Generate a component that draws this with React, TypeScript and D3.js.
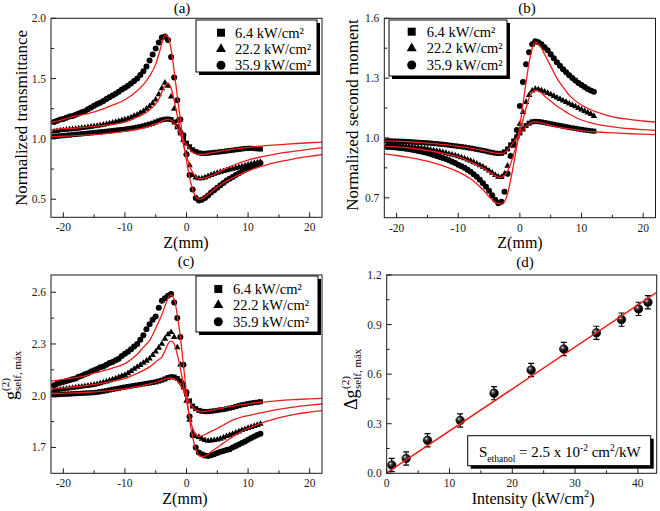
import React from 'react';
import * as d3 from 'd3';

// ---------- shared z positions ----------
const zData = [
  -21.5, -21, -20.5, -20, -19.5, -19, -18.5, -18, -17.5, -17,
  -16.5, -16, -15.5, -15, -14.5, -14, -13.5, -13, -12.5, -12,
  -11.5, -11, -10.5, -10, -9.5, -9, -8.5, -8, -7.5, -7,
  -6.5, -6, -5.5, -5, -4.5, -4, -3.5, -3, -2.5, -2,
  -1.5, -1, -0.5, 0, 0.5, 1, 1.5, 2, 2.5, 3,
  3.5, 4, 4.5, 5, 5.5, 6, 6.5, 7, 7.5, 8,
  8.5, 9, 9.5, 10, 10.5, 11, 11.5, 12,
];
const zFit = [
  -22, -20, -18, -16, -14, -12, -10, -8, -7, -6,
  -5, -4.5, -4, -3.5, -3, -2.5, -2, -1.5, -1, -0.5,
  0, 0.5, 1, 1.5, 2, 2.5, 3, 3.5, 4, 5,
  6, 7, 8, 10, 12, 14, 16, 18, 20, 22,
];
const legendLabels = ['6.4 kW/cm²', '22.2 kW/cm²', '35.9 kW/cm²'];

// ---------- (a) normalized transmittance ----------
const aSq = [
  1.02, 1.022, 1.025, 1.027, 1.03, 1.032, 1.035, 1.037, 1.04, 1.042,
  1.045, 1.047, 1.05, 1.052, 1.055, 1.058, 1.06, 1.063, 1.066, 1.069,
  1.072, 1.075, 1.078, 1.08, 1.084, 1.088, 1.092, 1.097, 1.102, 1.108,
  1.115, 1.122, 1.13, 1.14, 1.15, 1.158, 1.163, 1.165, 1.16, 1.14,
  1.10, 1.05, 1.0, 0.965, 0.935, 0.91, 0.895, 0.885, 0.88, 0.88,
  0.882, 0.885, 0.888, 0.89, 0.893, 0.896, 0.9, 0.903, 0.906, 0.91,
  0.913, 0.917, 0.92, 0.922, 0.922, 0.92, 0.918, 0.916,
];
const aTri = [
  1.06, 1.065, 1.07, 1.072, 1.075, 1.078, 1.08, 1.083, 1.086, 1.09,
  1.093, 1.096, 1.10, 1.104, 1.108, 1.112, 1.117, 1.122, 1.128, 1.134,
  1.14, 1.147, 1.154, 1.16, 1.168, 1.178, 1.19, 1.20, 1.215, 1.23,
  1.25, 1.27, 1.295, 1.325, 1.37, 1.42, 1.465, 1.44, 1.35, 1.25,
  1.15, 1.07, 0.99, 0.88, 0.78, 0.70, 0.68, 0.672, 0.672, 0.68,
  0.69, 0.70, 0.71, 0.718, 0.725, 0.732, 0.74, 0.746, 0.752, 0.758,
  0.765, 0.772, 0.778, 0.785, 0.792, 0.798, 0.803, 0.808,
];
const aCir = [
  1.14, 1.15, 1.16, 1.165, 1.175, 1.185, 1.19, 1.20, 1.21, 1.22,
  1.23, 1.245, 1.26, 1.275, 1.29, 1.30, 1.315, 1.33, 1.345, 1.36,
  1.375, 1.39, 1.41, 1.425, 1.44, 1.46, 1.48, 1.50, 1.53, 1.56,
  1.60, 1.65, 1.70, 1.75, 1.80, 1.84, 1.85, 1.82, 1.68, 1.51,
  1.32, 1.16, 1.03, 0.87, 0.70, 0.58, 0.51, 0.49, 0.495, 0.51,
  0.53, 0.555, 0.575, 0.595, 0.615, 0.635, 0.655, 0.67, 0.685, 0.70,
  0.715, 0.73, 0.745, 0.755, 0.77, 0.78, 0.79, 0.80,
];
const aFitSq = [
  1.018, 1.022, 1.028, 1.034, 1.04, 1.05, 1.062, 1.08, 1.092, 1.106,
  1.124, 1.135, 1.147, 1.157, 1.162, 1.155, 1.13, 1.09, 1.04, 0.99,
  0.95, 0.915, 0.89, 0.877, 0.872, 0.872, 0.875, 0.879, 0.884, 0.893,
  0.902, 0.91, 0.918, 0.93, 0.94, 0.948, 0.955, 0.962, 0.968, 0.973,
];
const aFitTri = [
  1.075, 1.085, 1.09, 1.10, 1.11, 1.12, 1.14, 1.18, 1.205, 1.24,
  1.29, 1.33, 1.39, 1.44, 1.46, 1.42, 1.32, 1.19, 1.06, 0.95,
  0.86, 0.78, 0.72, 0.685, 0.67, 0.67, 0.675, 0.685, 0.695, 0.72,
  0.745, 0.768, 0.79, 0.825, 0.85, 0.87, 0.888, 0.90, 0.915, 0.925,
];
const aFitCir = [
  1.135, 1.16, 1.19, 1.21, 1.24, 1.28, 1.325, 1.40, 1.45, 1.52,
  1.62, 1.70, 1.79, 1.86, 1.85, 1.74, 1.56, 1.36, 1.16, 0.97,
  0.82, 0.68, 0.58, 0.52, 0.50, 0.505, 0.52, 0.54, 0.56, 0.60,
  0.635, 0.665, 0.69, 0.735, 0.77, 0.80, 0.82, 0.84, 0.855, 0.87,
];
const aYTicks = [0.5, 1.0, 1.5, 2.0];
const aYMinor = [0.75, 1.25, 1.75];

// ---------- (b) normalized second moment ----------
const bSq = [
  0.985, 0.985, 0.984, 0.984, 0.983, 0.983, 0.982, 0.981, 0.98, 0.979,
  0.978, 0.977, 0.976, 0.975, 0.974, 0.972, 0.971, 0.969, 0.968, 0.966,
  0.964, 0.962, 0.96, 0.958, 0.956, 0.954, 0.951, 0.949, 0.946, 0.943,
  0.94, 0.937, 0.934, 0.93, 0.927, 0.924, 0.922, 0.923, 0.93, 0.945,
  0.965, 0.985, 1.005, 1.025, 1.045, 1.062, 1.074, 1.081, 1.083, 1.082,
  1.08, 1.077, 1.074, 1.071, 1.068, 1.065, 1.062, 1.059, 1.056, 1.053,
  1.05, 1.048, 1.045, 1.043, 1.04, 1.038, 1.036, 1.034,
];
const bTri = [
  0.965, 0.964, 0.963, 0.962, 0.961, 0.96, 0.958, 0.957, 0.955, 0.953,
  0.951, 0.949, 0.947, 0.944, 0.941, 0.938, 0.935, 0.932, 0.928, 0.924,
  0.92, 0.916, 0.912, 0.907, 0.902, 0.897, 0.891, 0.885, 0.878, 0.871,
  0.863, 0.855, 0.846, 0.836, 0.825, 0.814, 0.805, 0.803, 0.82, 0.86,
  0.91, 0.96, 1.01, 1.07, 1.13, 1.18, 1.215, 1.237, 1.245, 1.243,
  1.238, 1.232, 1.225, 1.218, 1.21, 1.202, 1.195, 1.187, 1.18, 1.172,
  1.165, 1.158, 1.15, 1.142, 1.135, 1.127, 1.12, 1.11,
];
const bCir = [
  0.955, 0.954, 0.953, 0.952, 0.95, 0.948, 0.946, 0.944, 0.941, 0.938,
  0.935, 0.932, 0.928, 0.924, 0.92, 0.915, 0.91, 0.905, 0.90, 0.894,
  0.888, 0.881, 0.874, 0.866, 0.858, 0.85, 0.84, 0.83, 0.818, 0.805,
  0.79, 0.773, 0.755, 0.735, 0.712, 0.69, 0.672, 0.68, 0.73, 0.82,
  0.91, 0.97, 1.04, 1.16, 1.28, 1.37, 1.43, 1.47, 1.485, 1.48,
  1.47, 1.455, 1.44, 1.42, 1.40, 1.38, 1.362, 1.345, 1.33, 1.315,
  1.30, 1.288, 1.276, 1.265, 1.255, 1.246, 1.238, 1.232,
];
const bFitSq = [
  0.985, 0.984, 0.981, 0.977, 0.972, 0.966, 0.958, 0.949, 0.943, 0.937,
  0.93, 0.927, 0.924, 0.922, 0.922, 0.927, 0.94, 0.96, 0.98, 1.0,
  1.02, 1.04, 1.058, 1.07, 1.078, 1.08, 1.079, 1.076, 1.072, 1.064,
  1.056, 1.05, 1.045, 1.037, 1.031, 1.027, 1.024, 1.021, 1.019, 1.017,
];
const bFitTri = [
  0.958, 0.955, 0.95, 0.942, 0.932, 0.92, 0.905, 0.88, 0.865, 0.85,
  0.83, 0.82, 0.81, 0.803, 0.802, 0.81, 0.835, 0.87, 0.92, 0.97,
  1.03, 1.09, 1.15, 1.20, 1.23, 1.24, 1.235, 1.225, 1.21, 1.185,
  1.16, 1.14, 1.12, 1.09, 1.072, 1.06, 1.052, 1.046, 1.042, 1.038,
];
const bFitCir = [
  0.92, 0.912, 0.902, 0.89, 0.875, 0.855, 0.83, 0.795, 0.77, 0.74,
  0.705, 0.69, 0.678, 0.67, 0.668, 0.68, 0.72, 0.79, 0.87, 0.96,
  1.06, 1.17, 1.28, 1.38, 1.45, 1.48, 1.47, 1.45, 1.42, 1.36,
  1.30, 1.255, 1.215, 1.165, 1.135, 1.115, 1.10, 1.092, 1.085, 1.08,
];
const bYTicks = [0.7, 1.0, 1.3, 1.6];
const bYMinor = [0.85, 1.15, 1.45];

// ---------- (c) g2 self max ----------
const cSq = [
  2.005, 2.006, 2.007, 2.008, 2.009, 2.01, 2.011, 2.012, 2.013, 2.014,
  2.015, 2.016, 2.017, 2.018, 2.02, 2.023, 2.026, 2.029, 2.033, 2.037,
  2.04, 2.043, 2.047, 2.05, 2.053, 2.056, 2.059, 2.062, 2.065, 2.068,
  2.071, 2.074, 2.077, 2.08, 2.085, 2.09, 2.097, 2.105, 2.11, 2.108,
  2.10, 2.085, 2.05, 2.01, 1.97, 1.94, 1.925, 1.915, 1.91, 1.908,
  1.908, 1.91, 1.912, 1.915, 1.918, 1.92, 1.924, 1.928, 1.932, 1.937,
  1.942, 1.947, 1.95, 1.954, 1.957, 1.96, 1.962, 1.965,
];
const cTri = [
  2.03, 2.032, 2.035, 2.037, 2.04, 2.042, 2.045, 2.047, 2.05, 2.052,
  2.055, 2.057, 2.06, 2.063, 2.067, 2.072, 2.077, 2.082, 2.088, 2.094,
  2.10, 2.107, 2.114, 2.12, 2.13, 2.142, 2.155, 2.167, 2.178, 2.19,
  2.202, 2.215, 2.235, 2.255, 2.278, 2.30, 2.33, 2.355, 2.368, 2.34,
  2.28, 2.18, 2.07, 1.97, 1.86, 1.79, 1.765, 1.76, 1.75, 1.742,
  1.738, 1.74, 1.742, 1.745, 1.75, 1.757, 1.765, 1.772, 1.778, 1.785,
  1.792, 1.80, 1.806, 1.812, 1.818, 1.824, 1.83, 1.836,
];
const cCir = [
  2.06, 2.07, 2.075, 2.08, 2.085, 2.09, 2.095, 2.10, 2.11, 2.115,
  2.125, 2.13, 2.14, 2.148, 2.155, 2.165, 2.17, 2.18, 2.19, 2.195,
  2.205, 2.215, 2.23, 2.244, 2.255, 2.27, 2.285, 2.30, 2.325, 2.35,
  2.385, 2.415, 2.44, 2.46, 2.51, 2.55, 2.565, 2.58, 2.59, 2.54,
  2.45, 2.34, 2.18, 2.02, 1.88, 1.77, 1.70, 1.67, 1.66, 1.653,
  1.65, 1.655, 1.66, 1.668, 1.675, 1.68, 1.685, 1.69, 1.70, 1.708,
  1.717, 1.726, 1.735, 1.745, 1.755, 1.764, 1.772, 1.78,
];
const cFitSq = [
  2.012, 2.014, 2.016, 2.02, 2.025, 2.032, 2.04, 2.052, 2.06, 2.068,
  2.078, 2.084, 2.09, 2.096, 2.10, 2.102, 2.098, 2.085, 2.06, 2.03,
  1.995, 1.96, 1.935, 1.918, 1.91, 1.908, 1.909, 1.912, 1.915, 1.922,
  1.93, 1.937, 1.943, 1.953, 1.962, 1.968, 1.974, 1.978, 1.982, 1.985,
];
const cFitTri = [
  2.04, 2.045, 2.052, 2.06, 2.07, 2.085, 2.10, 2.13, 2.147, 2.167,
  2.195, 2.21, 2.224, 2.26, 2.30, 2.316, 2.30, 2.24, 2.16, 2.06,
  1.97, 1.88, 1.81, 1.775, 1.764, 1.768, 1.775, 1.784, 1.793, 1.81,
  1.83, 1.85, 1.865, 1.885, 1.90, 1.915, 1.927, 1.937, 1.945, 1.952,
];
const cFitCir = [
  2.085, 2.095, 2.105, 2.12, 2.14, 2.16, 2.186, 2.24, 2.28, 2.32,
  2.39, 2.43, 2.47, 2.52, 2.565, 2.585, 2.56, 2.47, 2.34, 2.18,
  2.01, 1.86, 1.76, 1.69, 1.655, 1.646, 1.65, 1.66, 1.675, 1.70,
  1.725, 1.75, 1.774, 1.81, 1.84, 1.862, 1.88, 1.895, 1.905, 1.914,
];
const cYTicks = [1.7, 2.0, 2.3, 2.6];
const cYMinor = [1.85, 2.15, 2.45];

// ---------- (d) delta g2 vs intensity ----------
const dIntensity = [0.8, 3.1, 6.5, 11.7, 17.1, 23.0, 28.2, 33.4, 37.4, 40.1, 41.6];
const dDeltaG = [0.05, 0.09, 0.2, 0.32, 0.485, 0.625, 0.752, 0.85, 0.93, 0.995, 1.035];
const dError = [0.04, 0.04, 0.04, 0.04, 0.04, 0.04, 0.04, 0.04, 0.04, 0.04, 0.04];
const dFitX = [0, 43];
const dFitY = [0.002, 1.095];
const dXTicks = [0, 10, 20, 30, 40];
const dXMinor = [5, 15, 25, 35];
const dYTicks = [0.0, 0.3, 0.6, 0.9, 1.2];
const dYMinor = [0.15, 0.45, 0.75, 1.05];

const zXTicks = [-20, -10, 0, 10, 20];
const zXMinor = [-15, -5, 5, 15];

const FONT = 'Liberation Serif, Times New Roman, Times, serif';
const RED = '#ee1c1c';
const INK = '#1a1a1a';

type Box = { left: number; right: number; top: number; bottom: number };

function Axes(props: {
  box: Box; x: any; y: any; xTicks: number[]; xMinor: number[];
  yTicks: number[]; yMinor: number[]; fmtX: (v: number) => string; fmtY: (v: number) => string;
}) {
  const { box, x, y, xTicks, xMinor, yTicks, yMinor, fmtX, fmtY } = props;
  return (
    <g>
      <rect x={box.left} y={box.top} width={box.right - box.left} height={box.bottom - box.top}
        fill="none" stroke={INK} strokeWidth={1} />
      {xTicks.map((t) => (
        <g key={'xt' + t}>
          <line x1={x(t)} x2={x(t)} y1={box.bottom} y2={box.bottom - 5} stroke={INK} />
          <text x={x(t)} y={box.bottom + 14} textAnchor="middle" fontSize={11.5} fill={INK}>{fmtX(t)}</text>
        </g>
      ))}
      {xMinor.map((t) => (
        <line key={'xm' + t} x1={x(t)} x2={x(t)} y1={box.bottom} y2={box.bottom - 3} stroke={INK} />
      ))}
      {yTicks.map((t) => (
        <g key={'yt' + t}>
          <line x1={box.left} x2={box.left + 5} y1={y(t)} y2={y(t)} stroke={INK} />
          <text x={box.left - 5} y={y(t) + 4} textAnchor="end" fontSize={11.5} fill={INK}>{fmtY(t)}</text>
        </g>
      ))}
      {yMinor.map((t) => (
        <line key={'ym' + t} x1={box.left} x2={box.left + 3} y1={y(t)} y2={y(t)} stroke={INK} />
      ))}
    </g>
  );
}

function Marker({ kind, cx, cy, s }: { kind: number; cx: number; cy: number; s: number }) {
  if (kind === 0) return <rect x={cx - s / 2} y={cy - s / 2} width={s} height={s} fill="#000" />;
  if (kind === 1) {
    const p = d3.symbol().type(d3.symbolTriangle).size((s * s * Math.sqrt(3)) / 4)();
    return <path d={p as string} transform={`translate(${cx},${cy})`} fill="#000" />;
  }
  return <circle cx={cx} cy={cy} r={s / 2} fill="#000" />;
}

type Legend = { x: number; y: number; w: number; h: number; symX: number; textX: number; rows: number[] };

function LegendBox({ lg }: { lg: Legend }) {
  return (
    <g>
      <rect x={lg.x + 3} y={lg.y + 3} width={lg.w} height={lg.h} fill="#000" />
      <rect x={lg.x} y={lg.y} width={lg.w} height={lg.h} fill="#fff" stroke="#000" strokeWidth={1} />
      {legendLabels.map((lab, i) => (
        <g key={lab}>
          <Marker kind={i} cx={lg.symX} cy={lg.rows[i]} s={i === 0 ? 8 : i === 1 ? 10 : 9} />
          <text x={lg.textX} y={lg.rows[i] + 5} fontSize={14.5} fill="#000">{lab}</text>
        </g>
      ))}
    </g>
  );
}

function ZPanel(props: {
  id: string; box: Box; yDomain: [number, number]; yTicks: number[]; yMinor: number[];
  series: number[][]; fits: number[][]; title: string; titleX: number; titleY: number;
  xTitleX: number; xTitleY: number; legend: Legend; ylabel: React.ReactNode;
}) {
  const { id, box, yDomain, yTicks, yMinor, series, fits, title, titleX, titleY, xTitleX, xTitleY, legend, ylabel } = props;
  const x = d3.scaleLinear().domain([-22, 22]).range([box.left, box.right]);
  const y = d3.scaleLinear().domain(yDomain).range([box.bottom, box.top]);
  const line = d3.line<number>().x((_, i) => x(zFit[i])).y((d) => y(d)).curve(d3.curveMonotoneX);
  const sizes = [5, 6.5, 6];
  return (
    <g>
      <defs>
        <clipPath id={id}>
          <rect x={box.left} y={box.top} width={box.right - box.left} height={box.bottom - box.top} />
        </clipPath>
      </defs>
      <g clipPath={`url(#${id})`}>
        {series.map((vals, k) =>
          vals.map((v, i) => <Marker key={k + '-' + i} kind={k} cx={x(zData[i])} cy={y(v)} s={sizes[k]} />)
        )}
        {fits.map((f, k) => (
          <path key={'f' + k} d={line(f) as string} fill="none" stroke={RED} strokeWidth={1.3} />
        ))}
      </g>
      <Axes box={box} x={x} y={y} xTicks={zXTicks} xMinor={zXMinor} yTicks={yTicks} yMinor={yMinor}
        fmtX={(v) => String(v)} fmtY={(v) => v.toFixed(1)} />
      <LegendBox lg={legend} />
      <text x={titleX} y={titleY} textAnchor="middle" fontSize={15} fill="#000">{title}</text>
      <text x={xTitleX} y={xTitleY} textAnchor="middle" fontSize={16} fill="#000">Z(mm)</text>
      {ylabel}
    </g>
  );
}

function PanelD() {
  const box: Box = { left: 386.7, right: 656.7, top: 275, bottom: 473.3 };
  const x = d3.scaleLinear().domain([0, 43]).range([box.left, box.right]);
  const y = d3.scaleLinear().domain([0, 1.2]).range([box.bottom, box.top]);
  const fit = d3.line<number>().x((_, i) => x(dFitX[i])).y((d) => y(d));
  return (
    <g>
      <defs>
        <radialGradient id="sphere" cx="0.36" cy="0.33" r="0.7">
          <stop offset="0" stopColor="#f2f2f2" />
          <stop offset="0.25" stopColor="#444" />
          <stop offset="0.7" stopColor="#000" />
        </radialGradient>
        <clipPath id="clipd">
          <rect x={box.left} y={box.top} width={box.right - box.left} height={box.bottom - box.top} />
        </clipPath>
      </defs>
      <g clipPath="url(#clipd)">
        {dIntensity.map((xi, i) => {
          const cx = x(xi);
          const y1 = y(dDeltaG[i] + dError[i]);
          const y0 = y(dDeltaG[i] - dError[i]);
          return (
            <g key={'e' + i} stroke="#000" strokeWidth={1.2}>
              <line x1={cx} x2={cx} y1={y1} y2={y0} />
              <line x1={cx - 3} x2={cx + 3} y1={y1} y2={y1} />
              <line x1={cx - 3} x2={cx + 3} y1={y0} y2={y0} />
            </g>
          );
        })}
        {dIntensity.map((xi, i) => (
          <circle key={'p' + i} cx={x(xi)} cy={y(dDeltaG[i])} r={4.3} fill="url(#sphere)" stroke="#000" strokeWidth={0.6} />
        ))}
        <path d={fit(dFitY) as string} fill="none" stroke={RED} strokeWidth={1.5} />
      </g>
      <Axes box={box} x={x} y={y} xTicks={dXTicks} xMinor={dXMinor} yTicks={dYTicks} yMinor={dYMinor}
        fmtX={(v) => String(v)} fmtY={(v) => v.toFixed(1)} />
      {/* slope legend */}
      <rect x={470.7} y={438.7} width={183} height={30} fill="#000" />
      <rect x={467.7} y={435.7} width={183} height={30} fill="#fff" stroke="#000" strokeWidth={1} />
      <text x={479} y={457} fontSize={15} fill="#000">
        S<tspan fontSize={9.5} dy={5}>ethanol</tspan>
        <tspan dy={-5}> = 2.5 x 10</tspan>
        <tspan fontSize={9.5} dy={-6}>-2</tspan>
        <tspan dy={6}> cm</tspan>
        <tspan fontSize={9.5} dy={-6}>2</tspan>
        <tspan dy={6}>/kW</tspan>
      </text>
      <text x={525} y={267} textAnchor="middle" fontSize={15} fill="#000">(d)</text>
      <text x={471.7} y={504} fontSize={16} fill="#000">
        Intensity (kW/cm<tspan fontSize={10.5} dy={-7}>2</tspan><tspan dy={7}>)</tspan>
      </text>
      <g transform="translate(357,410) rotate(-90)" fill="#000">
        <text x={0} y={0} fontSize={18}>Δg</text>
        <text x={21} y={-8} fontSize={11}>(2)</text>
        <text x={21} y={4} fontSize={11}>self, máx</text>
      </g>
    </g>
  );
}

export default function App() {
  return (
    <svg width={660} height={511} viewBox="0 0 660 511"
      style={{ position: 'absolute', left: 0, top: 0, background: '#fff' }} fontFamily={FONT}>
      <rect x={0} y={0} width={660} height={511} fill="#fff" />
      <ZPanel id="clipa" box={{ left: 51, right: 322, top: 18.3, bottom: 217.3 }} yDomain={[0.35, 2.0]}
        yTicks={aYTicks} yMinor={aYMinor} series={[aSq, aTri, aCir]} fits={[aFitSq, aFitTri, aFitCir]}
        title="(a)" titleX={182} titleY={13} xTitleX={186} xTitleY={248}
        legend={{ x: 196, y: 20, w: 121, h: 52, symX: 221, textX: 235, rows: [32.7, 49, 65.3] }}
        ylabel={<text transform="translate(27,118) rotate(-90)" textAnchor="middle" fontSize={17} fill="#000">Normalized transmittance</text>}
      />
      <ZPanel id="clipb" box={{ left: 384.3, right: 655.5, top: 18.3, bottom: 217.7 }} yDomain={[0.6, 1.6]}
        yTicks={bYTicks} yMinor={bYMinor} series={[bSq, bTri, bCir]} fits={[bFitSq, bFitTri, bFitCir]}
        title="(b)" titleX={527} titleY={13} xTitleX={520} xTitleY={248}
        legend={{ x: 389, y: 20, w: 118, h: 56, symX: 411.7, textX: 426.7, rows: [31.7, 48.3, 65] }}
        ylabel={<text transform="translate(358,115) rotate(-90)" textAnchor="middle" fontSize={17} fill="#000">Normalized second moment</text>}
      />
      <ZPanel id="clipc" box={{ left: 51, right: 322, top: 275, bottom: 473.3 }} yDomain={[1.55, 2.7]}
        yTicks={cYTicks} yMinor={cYMinor} series={[cSq, cTri, cCir]} fits={[cFitSq, cFitTri, cFitCir]}
        title="(c)" titleX={186} titleY={266} xTitleX={185} xTitleY={504}
        legend={{ x: 196, y: 276, w: 122, h: 56, symX: 218.3, textX: 233, rows: [289, 305, 321.7] }}
        ylabel={
          <g transform="translate(17,400) rotate(-90)" fill="#000">
            <text x={0} y={0} fontSize={18}>g</text>
            <text x={9} y={-8} fontSize={11}>(2)</text>
            <text x={9} y={4} fontSize={11}>self, máx</text>
          </g>
        }
      />
      <PanelD />
    </svg>
  );
}
